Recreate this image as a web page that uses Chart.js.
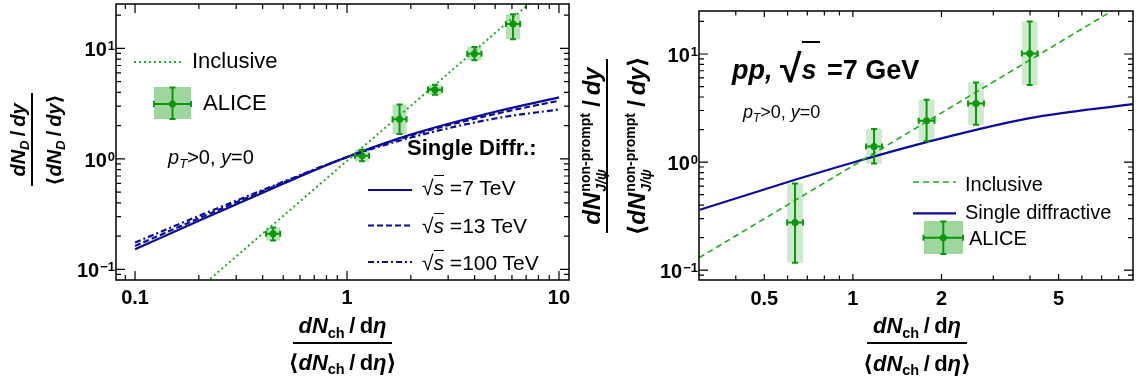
<!DOCTYPE html>
<html><head><meta charset="utf-8">
<script src="https://cdn.jsdelivr.net/npm/chart.js@4.4.1/dist/chart.umd.min.js"></script>
<style>
body{margin:0;background:#fff;}
#wrap{position:relative;width:1137px;height:385px;overflow:hidden;background:#fff;font-family:"Liberation Sans",Arial,Helvetica,"DejaVu Sans",sans-serif;color:#000}
.cv{position:absolute;top:0;height:385px}
.t{position:absolute;white-space:nowrap;line-height:1;}
.t span{line-height:0}
.i{font-style:italic}
.b{font-weight:bold}
.sb{font-size:0.66em;position:relative;top:0.3em}
.ov{border-top:1.6px solid #000}
</style></head><body>
<div id="wrap">
 <div class="cv" style="left:0;width:575px"><canvas id="cL"></canvas></div>
 <div class="cv" style="left:575px;width:562px"><canvas id="cR"></canvas></div>
</div>
<script>
// ---------- LEFT PANEL DATA (D mesons) ----------
const leftInclX = [0.2, 8];
const leftInclY = [0.067, 30];
const leftSdX = [0.1, 0.2, 0.5, 1, 2, 5, 10];
const leftSd7 = [0.152, 0.276, 0.596, 1.04, 1.66, 2.67, 3.6];
const leftSd13 = [0.163, 0.29, 0.61, 1.04, 1.63, 2.55, 3.36];
const leftSd100 = [0.175, 0.305, 0.62, 1.035, 1.56, 2.32, 2.8];
const leftAliceX = [0.448, 1.177, 1.77, 2.60, 3.99, 6.07];
const leftAliceY = [0.21, 1.07, 2.28, 4.22, 8.95, 16.6];
const leftAliceYLo = [0.183, 0.95, 1.68, 3.81, 7.8, 12.1];
const leftAliceYHi = [0.24, 1.21, 3.1, 4.68, 10.3, 20.4];
const leftAliceXLo = [0.415, 1.09, 1.64, 2.41, 3.69, 5.62];
const leftAliceXHi = [0.484, 1.27, 1.91, 2.81, 4.31, 6.56];

// ---------- RIGHT PANEL DATA (non-prompt J/psi) ----------
const rightInclX = [0.3, 9];
const rightInclY = [0.13, 33];
const rightSdX = [0.302, 0.636, 0.975, 1.767, 3.99, 8.95];
const rightSdY = [0.362, 0.685, 0.97, 1.52, 2.55, 3.44];
const rightAliceX = [0.636, 1.18, 1.78, 2.62, 3.99];
const rightAliceY = [0.276, 1.39, 2.41, 3.49, 10.1];
const rightAliceYLo = [0.117, 0.97, 1.57, 2.21, 5.16];
const rightAliceYHi = [0.634, 2.02, 3.77, 5.46, 20.0];
const rightAliceXLo = [0.598, 1.109, 1.673, 2.462, 3.75];
const rightAliceXHi = [0.677, 1.256, 1.894, 2.788, 4.245];

// ---------- TICKS ----------
const leftXTicks = [0.1, 1, 10];
const leftXTickLabels = ['0.1', '1', '10'];
const leftXMinor = [0.09, 0.2, 0.3, 0.4, 0.5, 0.6, 0.7, 0.8, 0.9, 2, 3, 4, 5, 6, 7, 8, 9];
const rightXTicks = [0.5, 1, 2, 5];
const rightXTickLabels = ['0.5', '1', '2', '5'];
const rightXMinor = [0.4, 0.6, 0.7, 0.8, 0.9, 3, 4, 6, 7, 8];
const yTicks = [0.1, 1, 10];
const yTickExp = ['\u22121', '0', '1'];
const yMinor = [0.09, 0.2, 0.3, 0.4, 0.5, 0.6, 0.7, 0.8, 0.9, 2, 3, 4, 5, 6, 7, 8, 9, 20];

const BLUE = '#0c0c99';
const GREEN = '#0b960b';
const GREEN_LINE = '#22aa22';
const FONT = '"Liberation Sans", Arial, Helvetica, sans-serif';

function pts(xs, ys){ return xs.map((v,i)=>({x:v, y:ys[i]})); }

function drawCross(ctx, cx, cy, x0, x1, y0, y1){
  ctx.save(); ctx.strokeStyle = GREEN; ctx.lineWidth = 2; ctx.setLineDash([]);
  ctx.beginPath();
  ctx.moveTo(x0, cy); ctx.lineTo(x1, cy);
  ctx.moveTo(cx, y0); ctx.lineTo(cx, y1);
  ctx.moveTo(x0, cy-3); ctx.lineTo(x0, cy+3);
  ctx.moveTo(x1, cy-3); ctx.lineTo(x1, cy+3);
  ctx.moveTo(cx-3, y0); ctx.lineTo(cx+3, y0);
  ctx.moveTo(cx-3, y1); ctx.lineTo(cx+3, y1);
  ctx.stroke(); ctx.restore();
}
function seg(ctx, x0, x1, y, color, w, dash){
  ctx.save(); ctx.strokeStyle=color; ctx.lineWidth=w; ctx.setLineDash(dash);
  ctx.beginPath(); ctx.moveTo(x0,y); ctx.lineTo(x1,y); ctx.stroke(); ctx.restore();
}

function makeFrame(cfg){
  return {
    id: 'frame_' + cfg.name,
    beforeDatasetsDraw(chart){
      const ctx = chart.ctx, xs = chart.scales.x, ys = chart.scales.y, a = chart.chartArea;
      ctx.save();
      ctx.beginPath(); ctx.rect(a.left, a.top, a.right-a.left, a.bottom-a.top); ctx.clip();
      ctx.fillStyle = cfg.boxColor;
      for (let i=0;i<cfg.ax.length;i++){
        const x0 = xs.getPixelForValue(cfg.axlo[i]), x1 = xs.getPixelForValue(cfg.axhi[i]);
        const y0 = ys.getPixelForValue(cfg.ayhi[i]), y1 = ys.getPixelForValue(cfg.aylo[i]);
        ctx.fillRect(x0, y0, x1-x0, y1-y0);
      }
      ctx.restore();
    },
    afterDatasetsDraw(chart){
      const ctx = chart.ctx, xs = chart.scales.x, ys = chart.scales.y;
      for (let i=0;i<cfg.ax.length;i++){
        drawCross(ctx, xs.getPixelForValue(cfg.ax[i]), ys.getPixelForValue(cfg.ay[i]),
          xs.getPixelForValue(cfg.axlo[i]), xs.getPixelForValue(cfg.axhi[i]),
          ys.getPixelForValue(cfg.ayhi[i]), ys.getPixelForValue(cfg.aylo[i]));
      }
    },
    afterDraw(chart){
      const ctx = chart.ctx, xs = chart.scales.x, ys = chart.scales.y, a = chart.chartArea;
      ctx.save();
      ctx.strokeStyle = '#000'; ctx.lineWidth = 1.5; ctx.setLineDash([]);
      ctx.strokeRect(a.left, a.top, a.right-a.left, a.bottom-a.top);
      ctx.lineWidth = 1.2;
      ctx.beginPath();
      const xt = (vals, len) => vals.forEach(v => { const p = xs.getPixelForValue(v);
        if (p < a.left || p > a.right) return;
        ctx.moveTo(p, a.bottom); ctx.lineTo(p, a.bottom-len);
        ctx.moveTo(p, a.top); ctx.lineTo(p, a.top+len); });
      const yt = (vals, len) => vals.forEach(v => { const p = ys.getPixelForValue(v);
        if (p < a.top || p > a.bottom) return;
        ctx.moveTo(a.left, p); ctx.lineTo(a.left+len, p);
        ctx.moveTo(a.right, p); ctx.lineTo(a.right-len, p); });
      xt(cfg.xTicks, cfg.xMajLen); xt(cfg.xMinor, cfg.xMinLen);
      yt(yTicks, 9); yt(yMinor, 5);
      ctx.stroke();
      // x labels
      ctx.fillStyle = '#000';
      ctx.font = 'bold 20px ' + FONT; ctx.textAlign = 'center'; ctx.textBaseline = 'alphabetic';
      cfg.xTicks.forEach((v,i) => ctx.fillText(cfg.xLabels[i], xs.getPixelForValue(v), a.bottom + cfg.xLabOff));
      // y labels 10^n
      ctx.textAlign = 'left';
      yTicks.forEach((v,i) => {
        const p = ys.getPixelForValue(v);
        ctx.font = 'bold 20px ' + FONT; const wb = ctx.measureText('10').width;
        ctx.font = 'bold 13px ' + FONT; const we = ctx.measureText(yTickExp[i]).width;
        const x0 = a.left - 1 - we - wb - 1;
        ctx.font = 'bold 20px ' + FONT; ctx.fillText('10', x0, p + 8);
        ctx.font = 'bold 13px ' + FONT; ctx.fillText(yTickExp[i], x0 + wb + 1, p + 2);
      });
      ctx.restore();
      cfg.legend(ctx);
    }
  };
}

function makeChart(id, datasets, cfg){
  return new Chart(document.getElementById(id), {
    type: 'line',
    data: { datasets },
    options: {
      responsive: true, maintainAspectRatio: false, animation: false, devicePixelRatio: 1,
      layout: { padding: cfg.padding },
      plugins: { legend: { display: false }, tooltip: { enabled: false } },
      scales: {
        x: { type: 'logarithmic', min: cfg.xmin, max: cfg.xmax, display: false },
        y: { type: 'logarithmic', min: cfg.ymin, max: cfg.ymax, display: false }
      },
      elements: { point: { radius: 0 } }
    },
    plugins: [makeFrame(cfg)]
  });
}

// ---------- LEFT CHART ----------
makeChart('cL', [
  { data: pts(leftInclX, leftInclY), borderColor: GREEN_LINE, borderWidth: 2, borderDash: [2, 3], pointRadius: 0 },
  { data: pts(leftSdX, leftSd100), borderColor: BLUE, borderWidth: 2.2, borderDash: [6, 3, 2, 3], pointRadius: 0, cubicInterpolationMode: 'monotone' },
  { data: pts(leftSdX, leftSd13), borderColor: BLUE, borderWidth: 2.2, borderDash: [6, 3], pointRadius: 0, cubicInterpolationMode: 'monotone' },
  { data: pts(leftSdX, leftSd7), borderColor: BLUE, borderWidth: 2.2, pointRadius: 0, cubicInterpolationMode: 'monotone' },
  { data: pts(leftAliceX, leftAliceY), showLine: false, pointRadius: 3.5, pointBackgroundColor: GREEN, pointBorderWidth: 0 }
], {
  name: 'L', padding: { left: 116, top: 1, right: 6, bottom: 105 },
  xmin: 0.0813, xmax: 11.15, ymin: 0.0802, ymax: 25.2,
  xTicks: leftXTicks, xLabels: leftXTickLabels, xMinor: leftXMinor, xMajLen: 9, xMinLen: 5, xLabOff: 24,
  ax: leftAliceX, ay: leftAliceY, axlo: leftAliceXLo, axhi: leftAliceXHi, aylo: leftAliceYLo, ayhi: leftAliceYHi,
  boxColor: 'rgba(60,175,60,0.36)',
  legend(ctx){
    seg(ctx, 134, 183, 62, GREEN_LINE, 2, [2, 3]);
    ctx.fillStyle = 'rgba(40,165,40,0.45)'; ctx.fillRect(154, 87, 37, 32);
    drawCross(ctx, 172.5, 104, 154, 191, 87.5, 119);
    ctx.fillStyle = GREEN; ctx.beginPath(); ctx.arc(172.5, 104, 3.5, 0, 7); ctx.fill();
    seg(ctx, 368, 412, 190, BLUE, 2.2, []);
    seg(ctx, 368, 412, 225.5, BLUE, 2.2, [6, 3]);
    seg(ctx, 368, 412, 262, BLUE, 2.2, [6, 3, 2, 3]);
  }
});

// ---------- RIGHT CHART ----------
makeChart('cR', [
  { data: pts(rightInclX, rightInclY), borderColor: GREEN_LINE, borderWidth: 1.6, borderDash: [6, 4], pointRadius: 0 },
  { data: pts(rightSdX, rightSdY), borderColor: BLUE, borderWidth: 2.2, pointRadius: 0, cubicInterpolationMode: 'monotone' },
  { data: pts(rightAliceX, rightAliceY), showLine: false, pointRadius: 3.5, pointBackgroundColor: GREEN, pointBorderWidth: 0 }
], {
  name: 'R', padding: { left: 124, top: 11, right: 1, bottom: 105 },
  xmin: 0.302, xmax: 8.95, ymin: 0.081, ymax: 25,
  xTicks: rightXTicks, xLabels: rightXTickLabels, xMinor: rightXMinor, xMajLen: 6, xMinLen: 4.5, xLabOff: 25,
  ax: rightAliceX, ay: rightAliceY, axlo: rightAliceXLo, axhi: rightAliceXHi, aylo: rightAliceYLo, ayhi: rightAliceYHi,
  boxColor: 'rgba(60,175,60,0.26)',
  legend(ctx){
    const o = 575;
    seg(ctx, 913-o, 956-o, 182, GREEN_LINE, 1.6, [6, 4]);
    seg(ctx, 913-o, 956-o, 213.3, BLUE, 2.2, []);
    ctx.fillStyle = 'rgba(40,165,40,0.45)'; ctx.fillRect(924-o, 221, 39, 33);
    drawCross(ctx, 943.3-o, 237.7, 923.5-o, 963-o, 221.5, 254);
    ctx.fillStyle = GREEN; ctx.beginPath(); ctx.arc(943.3-o, 237.7, 3.5, 0, 7); ctx.fill();
  }
});

// ---------- TEXT OVERLAYS ----------
const wrap = document.getElementById('wrap');
function place(html, x, base, size, cls, align){
  const d = document.createElement('div');
  d.className = 't ' + (cls || '');
  d.innerHTML = html;
  d.style.fontSize = size + 'px';
  d.style.top = (base - 0.8465*size) + 'px';
  d.style.left = x + 'px';
  if (align === 'center') d.style.transform = 'translateX(-50%)';
  wrap.appendChild(d); return d;
}
function frac(cx, cy, barLen, numHtml, numOff, denHtml, denOff, size, rotate){
  const W = 320, H = 120;
  const c = document.createElement('div');
  c.style.cssText = 'position:absolute;left:'+(cx-W/2)+'px;top:'+(cy-H/2)+'px;width:'+W+'px;height:'+H+'px;' + (rotate ? 'transform:rotate(-90deg);' : '');
  const bar = document.createElement('div');
  bar.style.cssText = 'position:absolute;left:'+(W/2-barLen/2)+'px;top:'+(H/2-1)+'px;width:'+barLen+'px;height:2px;background:#000';
  c.appendChild(bar);
  [[numHtml, numOff], [denHtml, denOff]].forEach(([h, off]) => {
    const d = document.createElement('div'); d.className = 't b';
    d.style.left = '0px'; d.style.width = W + 'px'; d.style.textAlign = 'center';
    d.style.fontSize = size + 'px'; d.style.top = (H/2 + off - 0.8465*size) + 'px';
    d.innerHTML = h; c.appendChild(d);
  });
  wrap.appendChild(c);
}
const LA = '<span style="font-family:\'DejaVu Sans\'">\u27E8</span>';
const RA = '<span style="font-family:\'DejaVu Sans\'">\u27E9</span>';
const rad = (s) => '<span>\u221A</span><span class="i ov">' + s + '</span>';

// left panel annotations
place('Inclusive', 192, 69, 22);
place('ALICE', 203, 111, 22);
place('<span class="i">p</span><span class="i sb">T</span>&gt;0, <span class="i">y</span>=0', 168, 164.3, 20);
place('Single Diffr.:', 407, 156, 22, 'b');
place(rad('s') + ' =7 TeV', 422, 195, 21);
place(rad('s') + ' =13 TeV', 422, 232.7, 21);
place(rad('s') + ' =100 TeV', 422, 269.3, 21);

// right panel annotations
place('<span class="i">pp,</span> <span style="font-size:1.45em;position:relative;top:0.08em">\u221A</span><span class="i" style="border-top:2.4px solid #000;padding-top:12px;padding-right:3px">s</span> =7 GeV', 732, 80, 27, 'b');
place('<span class="i">p</span><span class="i sb">T</span>&gt;0, <span class="i">y</span>=0', 743, 118.3, 18);
place('Inclusive', 965, 190.5, 20);
place('Single diffractive', 965, 219.3, 20);
place('ALICE', 969, 245, 20);

// axis titles
const xNum = '<span class="i">dN</span><span class="sb">ch</span>&thinsp;/&thinsp;d<span class="i">\u03B7</span>';
frac(342.5, 342.7, 99, xNum, -8.7, LA + xNum + RA, 28, 22, false);
frac(917, 343.3, 100, xNum, -9.3, LA + xNum + RA, 28.4, 22, false);

const yNumL = '<span class="i">dN</span><span class="i sb">D</span>&thinsp;/&thinsp;<span class="i">dy</span>';
frac(32, 140, 93, yNumL, -7, LA + yNumL + RA, 29, 20, true);

const cmeas = document.createElement('canvas').getContext('2d');
cmeas.font = 'bold 14px ' + FONT;
const npw = Math.ceil(cmeas.measureText('non\u2011prompt').width) + 2;
const scripts = '<span style="display:inline-block;position:relative;width:'+npw+'px;height:0">' +
  '<span style="position:absolute;left:1px;top:-22px;font-size:14px;line-height:1">non\u2011prompt</span>' +
  '<span class="i" style="position:absolute;left:1px;top:-6px;font-size:14px;line-height:1">J/\u03C8</span></span>';
const yNumR = '<span class="i">dN</span>' + scripts + '&thinsp;/&thinsp;<span class="i">dy</span>';
frac(607, 145.5, 174, yNumR, -7, LA + yNumR + RA, 38, 24, true);
</script>
</body></html>
